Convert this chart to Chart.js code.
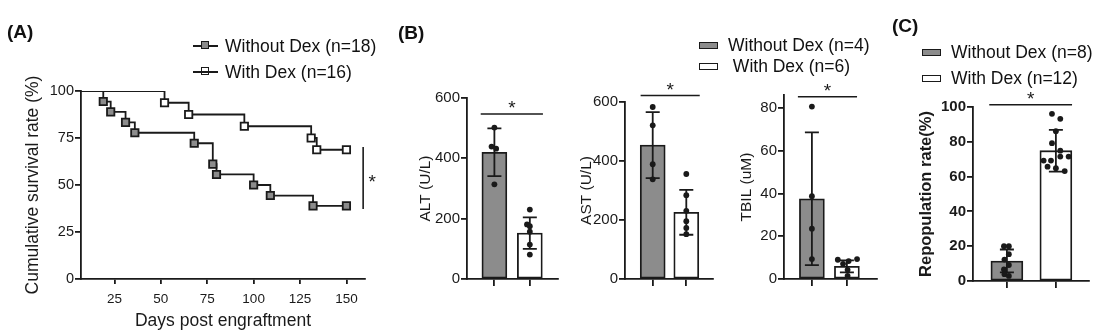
<!DOCTYPE html>
<html lang="en">
<head>
    <meta charset="UTF-8" />
    <title>Dex survival, liver function and repopulation</title>
    <script src="https://cdn.jsdelivr.net/npm/chart.js"></script>
    <style>
        body {
            margin: 0;
            width: 1106px;
            height: 334px;
            position: relative;
            overflow: hidden;
            background: #fff;
            color: #111;
            font-family: Arial, "Liberation Sans", sans-serif;
        }

        canvas {
            position: absolute;
            top: 0;
        }

        .panel-label {
            position: absolute;
            font-size: 19px;
            font-weight: bold;
            line-height: 22px;
            z-index: 2;
        }

        .legend-row {
            position: absolute;
            display: flex;
            align-items: center;
            height: 20px;
            font-size: 17.5px;
            white-space: nowrap;
            z-index: 2;
        }

        .km-key {
            position: relative;
            width: 25px;
            height: 20px;
            margin-right: 7px;
        }

        .km-key::before {
            content: "";
            position: absolute;
            left: 0;
            right: 0;
            top: 9px;
            height: 2px;
            background: #1a1a1a;
        }

        .km-key::after {
            content: "";
            position: absolute;
            left: 8px;
            top: 5px;
            width: 6px;
            height: 6px;
            border: 1.8px solid #1a1a1a;
        }

        .km-key.filled::after {
            background: #8c8c8c;
        }

        .bar-key {
            width: 17px;
            height: 5px;
            border: 1.8px solid #1a1a1a;
            margin-right: 10px;
            background: #fff;
        }

        .bar-key.filled {
            background: #8c8c8c;
        }
    </style>
</head>
<body>
    <div class="panel-label" style="left: 7px; top: 21px;">(A)</div>
    <div class="panel-label" style="left: 398px; top: 22px;">(B)</div>
    <div class="panel-label" style="left: 892px; top: 15px;">(C)</div>

    <div class="legend-row" style="left: 193px; top: 36px;"><span class="km-key filled"></span>Without Dex (n=18)</div>
    <div class="legend-row" style="left: 193px; top: 62px;"><span class="km-key"></span>With Dex (n=16)</div>

    <div class="legend-row" style="left: 699px; top: 35px;"><span class="bar-key filled"></span>Without Dex (n=4)</div>
    <div class="legend-row" style="left: 699px; top: 56px;"><span class="bar-key"></span>&nbsp;With Dex (n=6)</div>

    <div class="legend-row" style="left: 922px; top: 42px;"><span class="bar-key filled"></span>Without Dex (n=8)</div>
    <div class="legend-row" style="left: 922px; top: 68px;"><span class="bar-key"></span>With Dex (n=12)</div>

    <canvas id="survivalChart" width="400" height="334" style="left: 0px;"></canvas>
    <canvas id="altChart" width="165" height="334" style="left: 400px;"></canvas>
    <canvas id="astChart" width="160" height="334" style="left: 565px;"></canvas>
    <canvas id="tbilChart" width="160" height="334" style="left: 725px;"></canvas>
    <canvas id="repopChart" width="221" height="334" style="left: 885px;"></canvas>

    <script>
        // (A) Kaplan-Meier survival
        const survivalXTicks = [25, 50, 75, 100, 125, 150];
        const survivalYTicks = [0, 25, 50, 75, 100];
        const withoutDexDays = [0, 19, 23, 31, 36, 68, 78, 80, 100, 109, 132, 150];
        const withoutDexSurvival = [100, 94.4, 88.9, 83.3, 77.8, 72.2, 61.1, 55.6, 50, 44.4, 38.9, 38.9];
        const withDexDays = [0, 52, 65, 95, 131, 134, 150];
        const withDexSurvival = [100, 93.75, 87.5, 81.25, 75, 68.75, 68.75];

        // (B) liver function: bar = mean, sd = error bar, dots = animals
        const altTicks = [0, 200, 400, 600];
        const altMean = [420, 152];
        const altSd = [79, 52];
        const altWithout = [502, 439, 432, 314];
        const altWithoutJitter = [0, -0.08, 0.05, 0];
        const altWith = [230, 181, 175, 157, 114, 81];
        const altWithJitter = [0, -0.08, 0, 0, 0, 0];

        const astTicks = [0, 200, 400, 600];
        const astMean = [454, 226];
        const astSd = [112, 76];
        const astWithout = [583, 521, 389, 338];
        const astWithoutJitter = [0, 0, 0, 0];
        const astWith = [356, 284, 231, 196, 173, 152];
        const astWithJitter = [0, 0, 0, 0, 0, 0];

        const tbilTicks = [0, 20, 40, 60, 80];
        const tbilMean = [37.5, 5.9];
        const tbilSd = [31, 2.8];
        const tbilWithout = [80.6, 38.7, 23.5, 9.3];
        const tbilWithoutJitter = [0, 0, 0, 0];
        const tbilWith = [9.0, 9.3, 7.1, 8.4, 4.3, 1.5];
        const tbilWithJitter = [-0.26, 0.29, -0.11, 0.05, 0.02, 0.02];

        // (C) repopulation rate
        const repopTicks = [0, 20, 40, 60, 80, 100];
        const repopMean = [11.5, 74.9];
        const repopSd = [6.6, 12];
        const repopWithout = [20, 20, 15.4, 12.3, 9.2, 6.6, 3.9, 2.9];
        const repopWithoutJitter = [-0.06, 0.04, 0.04, -0.05, 0.04, -0.06, -0.05, 0.04];
        const repopWith = [96.1, 93.2, 86.1, 79.2, 74.9, 71.5, 71.5, 69.2, 69.2, 65.7, 64.8, 63.2];
        const repopWithJitter = [-0.08, 0.09, 0, -0.08, 0.09, 0.09, 0.26, -0.25, -0.1, -0.17, 0, 0.18];

        const ink = "#1a1a1a";
        const gray = "#8c8c8c";
        const fontFamily = "Arial, 'Liberation Sans', sans-serif";

        Chart.defaults.font.family = fontFamily;
        Chart.defaults.color = ink;

        const axisGrid = { drawOnChartArea: false, drawTicks: true, tickLength: 6, color: ink, lineWidth: 1.8 };
        const axisBorder = { display: true, color: ink, width: 1.8 };

        // mean +/- sd with caps, drawn right after the bars so the dots sit on top
        const errorBarsPlugin = {
            id: "errorBars",
            afterDatasetDraw(chart, args, opts) {
                if (args.meta.type !== "bar" || !opts.sd) return;
                const ctx = chart.ctx;
                const y = chart.scales.y;
                const values = chart.data.datasets[args.index].data;
                ctx.save();
                ctx.strokeStyle = ink;
                ctx.lineWidth = 1.8;
                args.meta.data.forEach((bar, i) => {
                    const top = y.getPixelForValue(values[i].y + opts.sd[i]);
                    const bottom = y.getPixelForValue(values[i].y - opts.sd[i]);
                    ctx.beginPath();
                    ctx.moveTo(bar.x, top);
                    ctx.lineTo(bar.x, bottom);
                    ctx.moveTo(bar.x - opts.cap, top);
                    ctx.lineTo(bar.x + opts.cap, top);
                    ctx.moveTo(bar.x - opts.cap, bottom);
                    ctx.lineTo(bar.x + opts.cap, bottom);
                    ctx.stroke();
                });
                ctx.restore();
            },
        };

        // significance line with a star
        const sigPlugin = {
            id: "sigMark",
            afterDraw(chart, args, opts) {
                if (opts.at === undefined) return;
                const ctx = chart.ctx;
                const { x, y } = chart.scales;
                ctx.save();
                ctx.strokeStyle = ink;
                ctx.fillStyle = ink;
                ctx.lineWidth = 1.6;
                ctx.font = "19px " + fontFamily;
                ctx.textAlign = "center";
                ctx.textBaseline = "middle";
                ctx.beginPath();
                if (opts.vertical) {
                    const px = x.getPixelForValue(opts.at);
                    const y1 = y.getPixelForValue(opts.from);
                    const y2 = y.getPixelForValue(opts.to);
                    ctx.moveTo(px, y1);
                    ctx.lineTo(px, y2);
                    ctx.stroke();
                    ctx.fillText("*", px + 9, (y1 + y2) / 2 + 5);
                } else {
                    const py = y.getPixelForValue(opts.at);
                    const x1 = x.getPixelForValue(opts.from);
                    const x2 = x.getPixelForValue(opts.to);
                    ctx.moveTo(x1, py);
                    ctx.lineTo(x2, py);
                    ctx.stroke();
                    ctx.fillText("*", (x1 + x2) / 2, py - 5);
                }
                ctx.restore();
            },
        };

        function kmPoints(days, survival) {
            return days.map((d, i) => ({ x: d, y: survival[i] }));
        }

        new Chart(document.getElementById("survivalChart"), {
            type: "line",
            data: {
                datasets: [
                    {
                        label: "Without Dex (n=18)",
                        data: kmPoints(withoutDexDays, withoutDexSurvival),
                        stepped: true,
                        borderColor: ink,
                        borderWidth: 1.8,
                        pointStyle: "rect",
                        pointRadius: (ctx) => (ctx.dataIndex === 0 ? 0 : 5.2),
                        pointBackgroundColor: gray,
                        pointBorderColor: ink,
                        pointBorderWidth: 1.8,
                        clip: 0,
                    },
                    {
                        label: "With Dex (n=16)",
                        data: kmPoints(withDexDays, withDexSurvival),
                        stepped: true,
                        borderColor: ink,
                        borderWidth: 1.8,
                        pointStyle: "rect",
                        pointRadius: (ctx) => (ctx.dataIndex === 0 ? 0 : 5.2),
                        pointBackgroundColor: "#fff",
                        pointBorderColor: ink,
                        pointBorderWidth: 1.8,
                        clip: 0,
                    },
                ],
            },
            options: {
                responsive: false,
                animation: false,
                events: [],
                layout: { padding: { top: 91, right: 35, left: 0, bottom: 0 } },
                plugins: {
                    legend: { display: false },
                    tooltip: { enabled: false },
                    sigMark: { vertical: true, at: 159, from: 37.2, to: 70.2 },
                },
                scales: {
                    x: {
                        type: "linear",
                        min: 7,
                        max: 160,
                        afterBuildTicks: (s) => { s.ticks = survivalXTicks.map((v) => ({ value: v })); },
                        afterFit: (s) => { s.height = 55; },
                        grid: { ...axisGrid, tickLength: 5 },
                        border: axisBorder,
                        ticks: { font: { size: 13.5 }, padding: 7, maxRotation: 0, autoSkip: false },
                        title: { display: true, text: "Days post engraftment", font: { size: 17.5 }, padding: { top: 0, bottom: 2 } },
                    },
                    y: {
                        min: 0,
                        max: 100,
                        afterBuildTicks: (s) => { s.ticks = survivalYTicks.map((v) => ({ value: v })); },
                        afterFit: (s) => { s.width = 81; },
                        grid: axisGrid,
                        border: axisBorder,
                        ticks: { font: { size: 14.5 }, padding: 1 },
                        title: { display: true, text: "Cumulative survival rate (%)", font: { size: 17.5 }, padding: { top: 23, bottom: 0 } },
                    },
                },
            },
            plugins: [sigPlugin],
        });

        function dots(values, jitter, group) {
            return values.map((v, i) => ({ x: group + jitter[i], y: v }));
        }

        function makeBarChart(id, cfg) {
            return new Chart(document.getElementById(id), {
                type: "bar",
                data: {
                    datasets: [
                        {
                            type: "scatter",
                            data: dots(cfg.without, cfg.withoutJitter, 1),
                            pointRadius: 2.9,
                            pointBackgroundColor: ink,
                            pointBorderWidth: 0,
                        },
                        {
                            type: "scatter",
                            data: dots(cfg.with, cfg.withJitter, 2),
                            pointRadius: 2.9,
                            pointBackgroundColor: ink,
                            pointBorderWidth: 0,
                        },
                        {
                            type: "bar",
                            data: cfg.mean.map((m, i) => ({ x: i + 1, y: m })),
                            backgroundColor: [gray, "#fff"],
                            borderColor: ink,
                            borderWidth: 1.8,
                            borderSkipped: false,
                            barThickness: cfg.barWidth,
                        },
                    ],
                },
                options: {
                    responsive: false,
                    animation: false,
                    events: [],
                    layout: { padding: { top: cfg.top, right: cfg.right, left: 0, bottom: 0 } },
                    plugins: {
                        legend: { display: false },
                        tooltip: { enabled: false },
                        errorBars: { sd: cfg.sd, cap: 7 },
                        sigMark: cfg.sig,
                    },
                    scales: {
                        x: {
                            type: "linear",
                            offset: false,
                            min: cfg.xRange[0],
                            max: cfg.xRange[1],
                            afterBuildTicks: (s) => { s.ticks = [{ value: 1 }, { value: 2 }]; },
                            afterFit: (s) => { s.height = cfg.xHeight; },
                            grid: { ...axisGrid, offset: false, tickLength: 7 },
                            border: axisBorder,
                            ticks: { display: false },
                        },
                        y: {
                            min: 0,
                            max: cfg.max,
                            afterBuildTicks: (s) => { s.ticks = cfg.ticks.map((v) => ({ value: v })); },
                            afterFit: (s) => { s.width = cfg.yWidth; },
                            grid: axisGrid,
                            border: axisBorder,
                            ticks: { font: { size: 15, weight: cfg.bold ? "bold" : "normal" }, padding: 1 },
                            title: {
                                display: true,
                                text: cfg.title,
                                font: { size: cfg.bold ? 16.5 : 15.5, weight: cfg.bold ? "bold" : "normal" },
                                padding: { top: cfg.titlePad, bottom: 0 },
                            },
                        },
                    },
                },
                plugins: [errorBarsPlugin, sigPlugin],
            });
        }

        makeBarChart("altChart", {
            title: "ALT (U/L)",
            ticks: altTicks, max: 600,
            mean: altMean, sd: altSd,
            without: altWithout, withoutJitter: altWithoutJitter,
            with: altWith, withJitter: altWithJitter,
            top: 98, right: 7, yWidth: 67, xHeight: 55, titlePad: 16,
            xRange: [0.227, 2.795], barWidth: 25,
            sig: { from: 0.614, to: 2.37, at: 547 },
        });

        makeBarChart("astChart", {
            title: "AST (U/L)",
            ticks: astTicks, max: 600,
            mean: astMean, sd: astSd,
            without: astWithout, withoutJitter: astWithoutJitter,
            with: astWith, withJitter: astWithJitter,
            top: 102, right: 12, yWidth: 60, xHeight: 55, titlePad: 12.5,
            xRange: [0.175, 2.795], barWidth: 25,
            sig: { from: 0.64, to: 2.4, at: 622 },
        });

        makeBarChart("tbilChart", {
            title: "TBIL (uM)",
            ticks: tbilTicks, max: 86,
            mean: tbilMean, sd: tbilSd,
            without: tbilWithout, withoutJitter: tbilWithoutJitter,
            with: tbilWith, withJitter: tbilWithJitter,
            top: 95, right: 8, yWidth: 59, xHeight: 55, titlePad: 12.5,
            xRange: [0.203, 2.86], barWidth: 25,
            sig: { from: 0.6, to: 2.29, at: 85.2 },
        });

        makeBarChart("repopChart", {
            title: "Repopulation rate(%)",
            bold: true,
            ticks: repopTicks, max: 100,
            mean: repopMean, sd: repopSd,
            without: repopWithout, withoutJitter: repopWithoutJitter,
            with: repopWith, withJitter: repopWithJitter,
            top: 107, right: 17, yWidth: 88, xHeight: 53, titlePad: 32,
            xRange: [0.308, 2.676], barWidth: 32,
            sig: { from: 0.64, to: 2.33, at: 101.3 },
        });
    </script>
</body>
</html>
